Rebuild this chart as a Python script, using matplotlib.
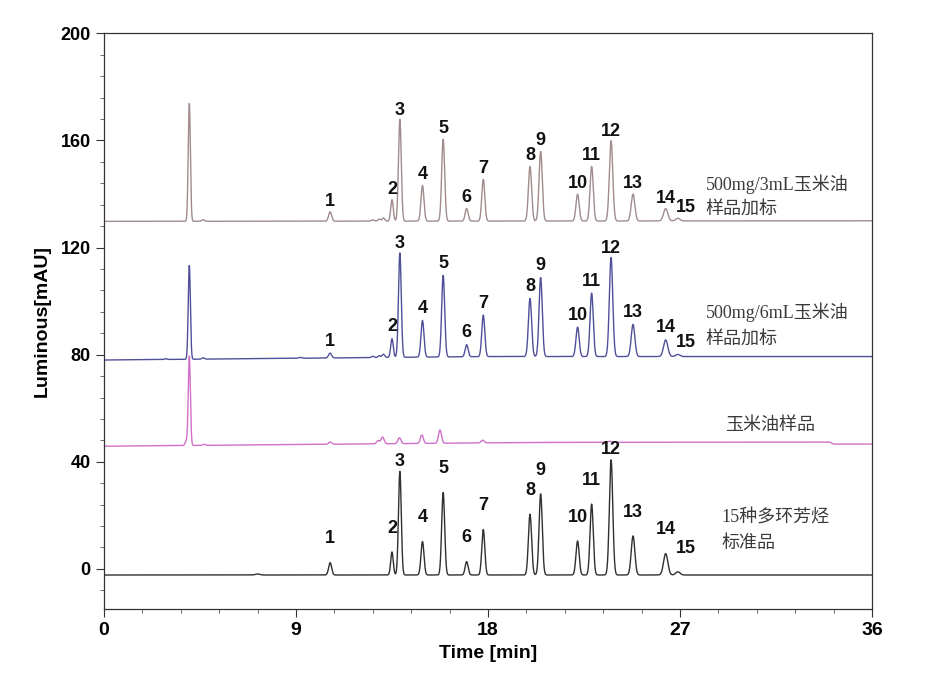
import numpy as np
import matplotlib
matplotlib.use("Agg")
import matplotlib.pyplot as plt
from matplotlib.ticker import MultipleLocator

# retention times of the 15 PAH peaks (min)
rt = [10.6, 13.5, 13.87, 14.93, 15.9, 17.0, 17.78, 19.97, 20.47, 22.2, 22.86, 23.77, 24.8, 26.33, 26.9]
sigma = [0.07, 0.06, 0.065, 0.07, 0.07, 0.07, 0.07, 0.075, 0.075, 0.075, 0.075, 0.08, 0.085, 0.1, 0.1]
peak_names = [str(i) for i in range(1, 16)]

# peak heights above baseline (mAU)
h_3ml = [3.5, 8, 38, 13.3, 30.6, 4.7, 15.6, 20.4, 26, 10, 20.4, 30, 10, 4.6, 1.0]
h_6ml = [1.8, 7, 39, 13.7, 30.5, 4.5, 15.5, 21.7, 29.5, 11, 23.7, 37, 12, 6.2, 0.8]
h_std = [4.6, 8.6, 38.7, 12.5, 30.8, 5, 17, 22.7, 30.3, 12.7, 26.5, 43, 14.6, 8, 1.2]

# extra (matrix / solvent) peaks: time, height, sigma
extra_3ml = [(4.0, 44, 0.05), (4.65, 0.6, 0.06), (12.6, 0.5, 0.06), (12.9, 0.8, 0.06), (13.1, 1.2, 0.06)]
extra_6ml = [(2.9, 0.3, 0.05), (4.0, 35, 0.05), (4.65, 0.5, 0.06), (9.2, 0.3, 0.08),
             (12.6, 0.5, 0.06), (12.9, 0.7, 0.06), (13.1, 1.2, 0.06)]
extra_oil = [(3.85, 1.5, 0.05), (4.0, 33.4, 0.05), (4.7, 0.4, 0.06), (10.6, 0.8, 0.07), (12.85, 1.2, 0.07),
             (13.06, 2.5, 0.07), (13.85, 2.2, 0.07), (14.9, 3.2, 0.07), (15.75, 5, 0.07),
             (17.75, 1.0, 0.07), (23.7, 0.4, 0.08)]
extra_std = [(7.2, 0.4, 0.1)]

# baselines (time, level)
base_3ml = ([0, 36], [129.8, 130.0])
base_6ml = ([0, 18, 36], [78.0, 79.3, 79.3])
base_oil = ([0, 20, 34.0, 34.2, 36], [45.8, 47.2, 47.4, 46.6, 46.6])
base_std = ([0, 36], [-2.3, -2.3])

t = np.linspace(0, 36, 7201)


def trace(base, heights, extra):
    y = np.interp(t, base[0], base[1])
    for r, h, s in zip(rt, heights, sigma):
        y = y + h * np.exp(-0.5 * ((t - r) / s) ** 2)
    for r, h, s in extra:
        y = y + h * np.exp(-0.5 * ((t - r) / s) ** 2)
    return y


fig = plt.figure(figsize=(9.3, 6.96), dpi=100)
ax = fig.add_axes([0.1118, 0.125, 0.8258, 0.827])

y1 = trace(base_3ml, h_3ml, extra_3ml)
y2 = trace(base_6ml, h_6ml, extra_6ml)
y3 = trace(base_oil, [0] * 15, extra_oil)
y4 = trace(base_std, h_std, extra_std)

ax.plot(t, y1, color="#a08c8c", lw=1.0)
ax.plot(t, y2, color="#50509a", lw=1.0)
ax.plot(t, y3, color="#d070c8", lw=1.0)
ax.plot(t, y4, color="#303030", lw=1.0)

num_font = dict(fontsize=13, fontweight="bold", family=["Liberation Sans", "DejaVu Sans"], color="#111111")


def label_peaks(base, heights, gap, gap_tall):
    for i, (r, h) in enumerate(zip(rt, heights)):
        top = np.interp(r, base[0], base[1]) + h
        dy = gap_tall if i in (2, 11) else gap
        dx = 6 if i == 14 else 0
        ax.annotate(peak_names[i], (r, top), xytext=(dx, dy), textcoords="offset points",
                    ha="center", va="bottom", **num_font)


label_peaks(base_3ml, h_3ml, 1.5, 0.5)
label_peaks(base_6ml, h_6ml, 2.5, 0.5)
label_peaks(base_std, h_std, 11, 1)

cjk = dict(fontsize=13, family=["Liberation Serif", "Noto Sans CJK SC"], color="#3a3a3a",
           ha="left", va="center")
ax.text(28.2, 143.7, "500mg/3mL玉米油", **cjk)
ax.text(28.2, 134.3, "样品加标", **cjk)
ax.text(28.2, 95.7, "500mg/6mL玉米油", **cjk)
ax.text(28.2, 85.6, "样品加标", **cjk)
ax.text(29.1, 53.7, "玉米油样品", **cjk)
ax.text(28.95, 19.1, "15种多环芳烃", **cjk)
ax.text(28.95, 9.4, "标准品", **cjk)

ax.set_xlim(0, 36)
ax.set_ylim(-15, 200)
ax.xaxis.set_major_locator(MultipleLocator(9))
ax.xaxis.set_minor_locator(MultipleLocator(1.8))
ax.yaxis.set_major_locator(MultipleLocator(40))
ax.yaxis.set_minor_locator(MultipleLocator(8))
ax.tick_params(which="major", direction="out", length=6, width=0.8, color="#333333")
ax.tick_params(which="minor", direction="out", length=3, width=0.6, color="#555555")
for s in ax.spines.values():
    s.set_color("#333333")
    s.set_linewidth(0.9)

for lab in ax.get_xticklabels():
    lab.set_family(["Liberation Sans", "DejaVu Sans"])
    lab.set_fontsize(14)
    lab.set_fontweight("bold")
for lab in ax.get_yticklabels():
    lab.set_family(["Liberation Sans", "DejaVu Sans"])
    lab.set_fontsize(13)
    lab.set_fontweight("bold")

ax.set_xlabel("Time [min]", fontsize=14, fontweight="bold",
              family=["Liberation Sans", "DejaVu Sans"], labelpad=4)
ax.set_ylabel("Luminous[mAU]", fontsize=14, fontweight="bold",
              family=["Liberation Sans", "DejaVu Sans"], labelpad=7)

fig.savefig("out.png", dpi=100)
